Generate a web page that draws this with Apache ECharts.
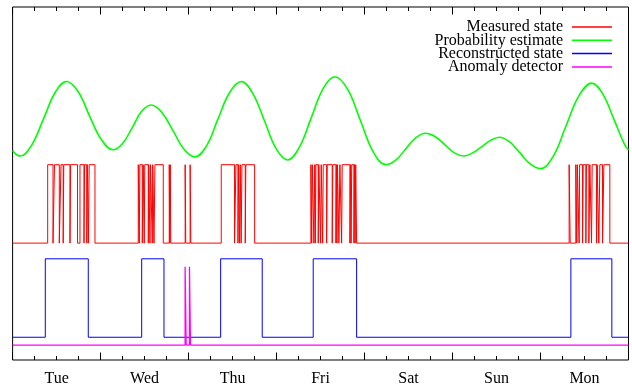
<!DOCTYPE html>
<html><head><meta charset="utf-8">
<script src="https://cdn.jsdelivr.net/npm/echarts@6/dist/echarts.min.js"></script>
<style>html,body{margin:0;padding:0;background:#fff}#c{width:632px;height:390px}</style>
</head><body><div id="c"></div>
<script>
// Day labels (each day spans 24 hours; x in hours since Tue 00:00)
const dayLabels = ['Tue','Wed','Thu','Fri','Sat','Sun','Mon'];
const seriesNames = ['Measured state','Probability estimate','Reconstructed state','Anomaly detector'];

// Probability estimate (hours, value)
const probX = [0,1.0,2.1,5.2,8.4,11.6,14.7,17.9,21.0,24.2,27.4,30.0,32.6,35.2,37.8,40.8,43.8,46.7,49.7,52.9,56.0,59.2,62.4,65.5,68.7,71.8,75.0,78.2,81.4,84.7,87.9,91.4,94.9,98.4,101.9,104.6,107.2,109.9,112.6,115.2,117.8,120.5,123.1,125.5,128.0,130.4,132.8,135.6,138.4,141.2,144.0,147.5,151.0,154.5,158.0,161.0,164.0,167.0,168];
const probY = [2.48,2.43,2.41,2.55,2.88,3.22,3.36,3.23,2.92,2.62,2.49,2.57,2.77,2.98,3.06,2.96,2.73,2.50,2.40,2.54,2.88,3.22,3.36,3.21,2.86,2.51,2.36,2.52,2.89,3.27,3.42,3.26,2.86,2.46,2.30,2.36,2.50,2.64,2.70,2.66,2.56,2.45,2.41,2.45,2.53,2.61,2.65,2.59,2.45,2.31,2.25,2.41,2.80,3.18,3.34,3.20,2.88,2.55,2.49];

// Measured state: switching times (hours), state starts at 0 and toggles at each time
const measuredToggles = [
 9.57,11.02,11.43,12.74,13.20,13.80,13.96,15.65,15.82,17.70,18.38,19.47,19.63,20.23,20.40,20.67,20.89,22.47,
 34.28,34.55,34.71,35.37,35.64,35.91,36.05,37.01,37.14,37.47,37.61,38.10,38.23,38.56,38.83,41.10,
 42.73,42.87,43.01,43.14,47.07,47.23,48.43,48.60,
 56.91,60.54,60.92,61.47,61.63,61.90,62.09,62.34,62.56,63.46,63.62,66.02,
 81.37,81.59,81.76,82.19,82.41,82.58,82.71,83.37,83.53,84.02,84.18,84.57,84.73,85.66,85.82,87.18,87.35,88.19,88.36,88.46,88.60,89.01,89.28,89.75,89.91,92.01,92.17,92.33,92.50,93.10,93.26,93.43,93.59,93.84,
 151.81,152.09,153.63,153.90,154.04,154.53,154.67,155.47,155.63,156.37,156.53,157.19,157.46,157.92,158.09,159.29,159.45,159.91,160.18,160.92,161.28,162.91
];
// Reconstructed state switching times (hours)
const reconstructedToggles = [8.92,20.64,35.21,41.29,56.75,68.09,82.00,93.84,152.28,163.46];
// Anomaly detector switching times (hours)
const anomalyToggles = [47.06,47.34,48.24,48.52];

// plotted offsets of each binary trace
const measuredBase = 1.3, reconstructedBase = 0.1, anomalyBase = 0;
const X_MAX = 168;

function stepData(toggles, base){
  const pts = [[0, base]];
  let s = 0;
  toggles.forEach(t => {
    pts.push([t, base + s]);
    s = 1 - s;
    pts.push([t, base + s]);
  });
  pts.push([X_MAX, base + s]);
  return pts;
}

const font = 'Liberation Serif, Times New Roman, serif';
const chart = echarts.init(document.getElementById('c'), null, {renderer:'canvas'});
const tickAxis = (pos) => ({
  type:'value', position:pos, min:0, max:X_MAX, interval:24,
  axisLine:{show:false, onZero:false},
  axisTick:{show:true, inside:true, length:7.5, lineStyle:{color:'#000', width:1}},
  minorTick:{show:true, splitNumber:4, length:4, lineStyle:{color:'#000', width:1}},
  axisLabel:{show:false}, splitLine:{show:false}, minorSplitLine:{show:false}
});
chart.setOption({
  animation:false,
  backgroundColor:'#fff',
  grid:{left:12.6, right:3.5, top:7, bottom:30, show:true, borderColor:'#000', borderWidth:1, backgroundColor:'transparent'},
  legend:{
    orient:'vertical', right:15, top:14, align:'right',
    icon:'rect', itemWidth:40, itemHeight:1.5, itemGap:-2.7,
    textStyle:{fontFamily:font, fontSize:16, color:'#000', padding:[0,4,0,0]},
    data:seriesNames
  },
  xAxis:[
    tickAxis('bottom'),
    tickAxis('top'),
    {type:'category', position:'bottom', data:dayLabels, boundaryGap:true,
     axisLine:{show:false, onZero:false}, axisTick:{show:false}, splitLine:{show:false},
     axisLabel:{fontFamily:font, fontSize:16, color:'#000', margin:11}}
  ],
  yAxis:[{type:'value', min:-0.19, max:4.31, show:false}],
  series:[
    {name:seriesNames[0], type:'line', xAxisIndex:0, symbol:'none', data:stepData(measuredToggles, measuredBase),
     lineStyle:{color:'#ff0000', width:1}, itemStyle:{color:'#ff0000'}},
    {name:seriesNames[1], type:'line', xAxisIndex:0, symbol:'none', smooth:0.4,
     data:probX.map((x,i)=>[x, probY[i]]),
     lineStyle:{color:'#00ff00', width:1.6}, itemStyle:{color:'#00ff00'}},
    {name:seriesNames[2], type:'line', xAxisIndex:0, symbol:'none', data:stepData(reconstructedToggles, reconstructedBase),
     lineStyle:{color:'#0000ff', width:1}, itemStyle:{color:'#0000ff'}},
    {name:seriesNames[3], type:'line', xAxisIndex:0, symbol:'none', data:stepData(anomalyToggles, anomalyBase),
     lineStyle:{color:'#ff00ff', width:1.3}, itemStyle:{color:'#ff00ff'}}
  ]
});
</script></body></html>
